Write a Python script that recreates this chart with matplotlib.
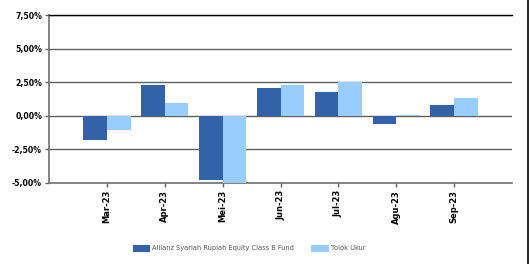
import matplotlib.pyplot as plt
import numpy as np
from matplotlib.ticker import FuncFormatter

# data (monthly returns, %)
months = ['Mar-23', 'Apr-23', 'Mei-23', 'Jun-23', 'Jul-23', 'Agu-23', 'Sep-23']
fund = [-1.83, 2.30, -4.75, 2.06, 1.76, -0.59, 0.80]
benchmark = [-1.09, 0.94, -5.05, 2.28, 2.50, 0.03, 1.31]
series_names = ['Allianz Syariah Rupiah Equity Class B Fund', 'Tolok Ukur']
yticks = [-5.0, -2.5, 0.0, 2.5, 5.0, 7.5]


def pct(v, pos):
    return ('%.2f%%' % v).replace('.', ',')


def main():
    fig = plt.figure(figsize=(5.3, 2.64), dpi=100)
    ax = fig.add_axes([0.0925, 0.307, 0.8735, 0.636])

    x = np.arange(len(months))
    w = 0.41
    b1 = ax.bar(x - w / 2, fund, w, color='#3462A9', zorder=3, label=series_names[0])
    b2 = ax.bar(x + w / 2, benchmark, w, color='#99CCFF', zorder=3, label=series_names[1])

    ax.set_xlim(-1, 7)
    ax.set_ylim(-5.0, 7.5)
    ax.set_yticks(yticks)
    ax.yaxis.set_major_formatter(FuncFormatter(pct))
    ax.set_xticks(x)
    ax.set_xticklabels(months, rotation=90, fontsize=6, fontweight='bold')
    for lbl in ax.get_yticklabels():
        lbl.set_fontsize(5.6)
        lbl.set_fontweight('bold')

    ax.grid(axis='y', color='#606060', lw=1.0, zorder=1)
    for s in ['left', 'bottom']:
        ax.spines[s].set_color('#707070')
        ax.spines[s].set_linewidth(1.2)
    ax.spines['right'].set_visible(False)
    ax.spines['top'].set_color('black')
    ax.spines['top'].set_linewidth(1.0)
    ax.tick_params(axis='both', length=3, width=1, color='#606060', pad=2)

    fig.legend(handles=[b1, b2], loc='center', bbox_to_anchor=(0.47, 0.06), ncol=2,
               frameon=False, fontsize=4.8, handlelength=2.6, handleheight=1.2,
               columnspacing=2.6, handletextpad=0.3, labelcolor='#555555')

    # right border line of the frame
    fig.add_artist(plt.Line2D([0.997, 0.997], [0, 1], color='black', lw=1.2,
                              transform=fig.transFigure))

    fig.savefig('out.png', dpi=100)


if __name__ == "__main__":
    main()
